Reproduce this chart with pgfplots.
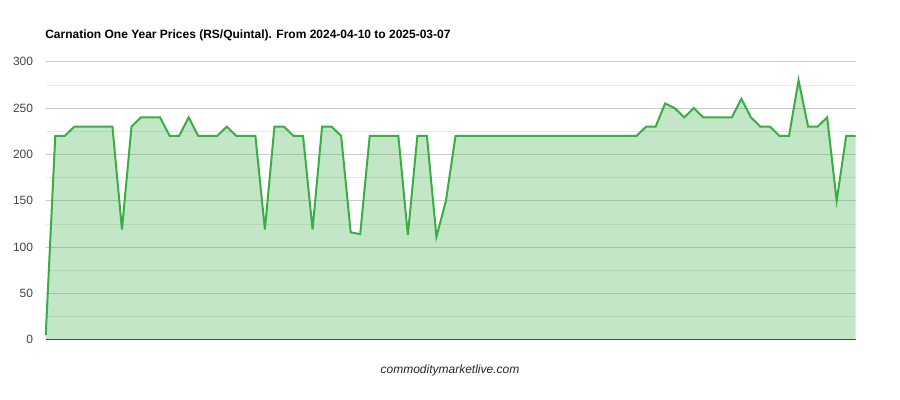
\documentclass[border=0pt]{standalone}
\usepackage{pgfplots}
\usepackage{pgfplotstable}
\pgfplotsset{compat=1.18}
\usepackage{fontspec}
\setmainfont{Liberation Sans}
\definecolor{linegreen}{RGB}{57,174,67}
\definecolor{tickgray}{RGB}{68,68,68}
\pgfplotstableread{
x y
0 5
1 220
2 220
3 230
4 230
5 230
6 230
7 230
8 119
9 230
10 240
11 240
12 240
13 220
14 220
15 240
16 220
17 220
18 220
19 230
20 220
21 220
22 220
23 119
24 230
25 230
26 220
27 220
28 119
29 230
30 230
31 220
32 116
33 114
34 220
35 220
36 220
37 220
38 113
39 220
40 220
41 111
42 150
43 220
44 220
45 220
46 220
47 220
48 220
49 220
50 220
51 220
52 220
53 220
54 220
55 220
56 220
57 220
58 220
59 220
60 220
61 220
62 220
63 230
64 230
65 255
66 250
67 240
68 250
69 240
70 240
71 240
72 240
73 260
74 240
75 230
76 230
77 220
78 220
79 280
80 230
81 230
82 240
83 150
84 220
85 220
}\prices
\begin{document}
\begin{tikzpicture}[x=0.75pt,y=0.75pt]
\path[use as bounding box] (0,0) rectangle (900,400);
\node[anchor=west,inner sep=0pt,font=\bfseries\fontsize{9}{11}\selectfont] at (45,365) {Carnation One Year Prices (RS/Quintal). From 2024-04-10 to 2025-03-07};
\node[font=\itshape\fontsize{9}{11}\selectfont,text=black!85] at (450,30) {commoditymarketlive.com};
\begin{axis}[
  at={(48,65)}, anchor=south west,
  scale only axis, width=607.5pt, height=208.5pt,
  xmin=0, xmax=85, ymin=0, ymax=300,
  axis x line*=bottom, axis y line*=left,
  x axis line style={draw=black!80, line width=0.8pt, -},
  y axis line style={draw=none},
  xtick=\empty,
  ytick={0,50,...,300}, minor ytick={25,75,...,275},
  major tick length=0pt, minor tick length=0pt,
  ymajorgrids, yminorgrids,
  major grid style={draw=black!20, line width=0.6pt},
  minor grid style={draw=black!9, line width=0.6pt},
  yticklabel style={font=\fontsize{9}{11}\selectfont, text=tickgray, xshift=-6pt},
  /pgf/number format/assume math mode=true,
  clip=false,
]
\addplot[draw=none, fill=linegreen, fill opacity=0.3] table {\prices} \closedcycle;
\addplot[draw=linegreen, line width=1.5pt, line join=miter] table {\prices};
\end{axis}
\end{tikzpicture}
\end{document}
